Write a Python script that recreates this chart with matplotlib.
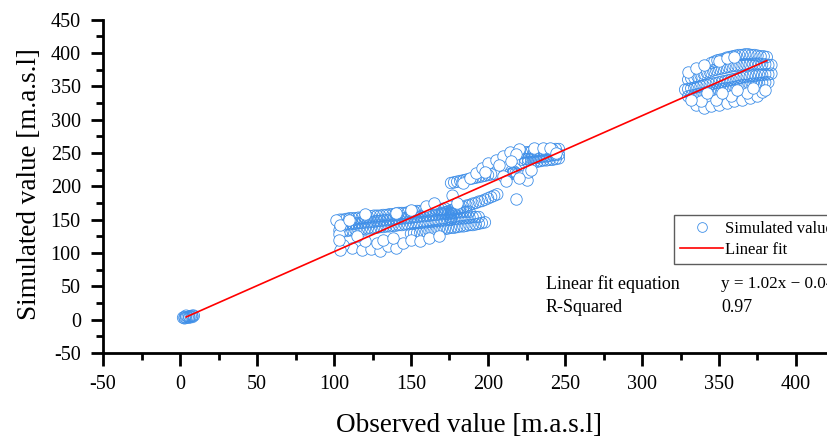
import numpy as np
import matplotlib
matplotlib.use("Agg")
import matplotlib.pyplot as plt
from matplotlib.ticker import MultipleLocator
from matplotlib.lines import Line2D

# ---------------- data ----------------
# cluster near origin
obs_a = [2, 3, 4, 5, 6, 7, 8, 9, 4, 6, 8, 3]
sim_a = [3, 4, 3, 4, 5, 5, 6, 6, 6, 3, 4, 2]

# 100-200 cluster, dense bands
obs_b1 = [104, 106, 108, 110, 112, 114, 116, 118, 120, 122, 124, 126, 128, 130, 132, 134, 136, 138, 140, 142,
          144, 146, 148, 150, 152, 154, 156, 158, 160, 162, 164, 166, 168, 170, 172]
sim_b1 = [150, 150, 151, 152, 152, 152, 153, 153, 154, 154, 155, 156, 156, 156, 157, 157, 158, 158, 159, 160,
          160, 160, 161, 161, 162, 163, 163, 163, 164, 164, 165, 166, 166, 166, 167]
obs_b2 = [104, 106, 108, 110, 112, 114, 116, 118, 120, 122, 124, 126, 128, 130, 132, 134, 136, 138, 140, 142,
          144, 146, 148, 150, 152, 154, 156, 158, 160, 162, 164, 166, 168, 170, 172, 174, 176, 178, 180, 182,
          184, 186, 188]
sim_b2 = [142, 142, 143, 143, 144, 144, 145, 145, 146, 146, 147, 147, 148, 148, 149, 149, 150, 150, 151, 151,
          152, 152, 153, 153, 154, 154, 155, 155, 156, 156, 157, 157, 158, 158, 159, 159, 160, 160, 161, 161,
          162, 162, 162]
obs_b3 = [106, 108, 110, 112, 114, 116, 118, 120, 122, 124, 126, 128, 130, 132, 134, 136, 138, 140, 142, 144,
          146, 148, 150, 152, 154, 156, 158, 160, 162, 164, 166, 168, 170, 172, 174, 176, 178, 180, 182, 184,
          186, 188, 190, 192, 194]
sim_b3 = [133, 133, 134, 134, 135, 135, 136, 136, 137, 137, 138, 138, 139, 139, 140, 140, 141, 141, 142, 142,
          143, 143, 144, 144, 145, 145, 146, 146, 147, 147, 148, 148, 149, 149, 150, 150, 151, 151, 152, 152,
          153, 153, 154, 154, 154]
obs_b4 = [150, 152, 154, 156, 158, 160, 162, 164, 166, 168, 170, 172, 174, 176, 178, 180, 182, 184, 186, 188,
          190, 192, 194, 196, 198]
sim_b4 = [129, 130, 130, 131, 132, 132, 133, 134, 134, 135, 136, 136, 137, 138, 138, 139, 140, 140, 141, 142,
          142, 143, 144, 145, 146]
obs_b6 = [170, 172, 174, 176, 178, 180, 182, 184, 186, 188, 190, 192, 194, 196, 198, 200, 202, 204, 206]
sim_b6 = [160, 161, 162, 164, 165, 166, 168, 169, 171, 172, 174, 175, 177, 178, 180, 182, 184, 186, 188]
obs_b7 = [176, 178, 180, 182, 184, 186, 188, 190, 192, 194, 196, 198, 200, 202, 204]
sim_b7 = [205, 206, 207, 208, 209, 210, 211, 212, 213, 214, 215, 216, 217, 218, 219]
obs_spk = [176, 176, 176, 176, 176, 177, 177]
sim_spk = [150, 153, 156, 159, 162, 165, 186]

# 200-250 cluster, dense bands
obs_c2 = [222, 224, 226, 228, 230, 232, 234, 236, 238, 240, 242, 244, 246]
sim_c2 = [240, 241, 241, 242, 243, 243, 244, 245, 245, 246, 247, 247, 248]
obs_c3 = [220, 222, 224, 226, 228, 230, 232, 234, 236, 238, 240, 242, 244, 246]
sim_c3 = [250, 250, 251, 251, 252, 252, 253, 253, 254, 254, 255, 255, 256, 256]
obs_c4 = [224, 226, 228, 230, 232, 234, 236, 238, 240, 242, 244, 246]
sim_c4 = [235, 236, 236, 237, 237, 238, 239, 239, 240, 240, 241, 242]
obs_cs = [214, 215, 216, 216, 217, 218, 219]
sim_cs = [218, 222, 219, 220, 222, 220, 218]

# 330-385 cluster, dense bands
obs_d1 = [345, 347, 349, 351, 353, 355, 357, 359, 361, 363, 365, 367, 369, 371, 373, 375, 377, 379, 381]
sim_d1 = [385, 387, 389, 390, 391, 393, 394, 395, 396, 397, 397, 398, 398, 397, 397, 396, 395, 395, 394]
obs_d2 = [330, 332, 334, 336, 338, 340, 342, 344, 346, 348, 350, 352, 354, 356, 358, 360, 362, 364, 366, 368,
          370, 372, 374, 376, 378, 380, 382, 384]
sim_d2 = [360, 362, 363, 365, 367, 369, 371, 372, 374, 375, 376, 377, 378, 379, 380, 381, 381, 382, 383, 383,
          383, 384, 384, 384, 383, 383, 382, 382]
obs_d3 = [328, 330, 332, 334, 336, 338, 340, 342, 344, 346, 348, 350, 352, 354, 356, 358, 360, 362, 364, 366,
          368, 370, 372, 374, 376, 378, 380, 382, 384]
sim_d3 = [345, 346, 347, 348, 349, 350, 351, 352, 353, 354, 355, 356, 357, 358, 359, 360, 361, 362, 363, 364,
          365, 365, 366, 366, 367, 367, 368, 368, 369]
obs_d4 = [330, 332, 334, 336, 338, 340, 342, 344, 346, 348, 350, 352, 354, 356, 358, 360, 362, 364, 366, 368,
          370, 372, 374, 376, 378, 380, 382]
sim_d4 = [335, 336, 337, 338, 339, 340, 341, 342, 343, 344, 345, 346, 347, 347, 348, 349, 350, 351, 352, 352,
          353, 354, 354, 355, 355, 356, 356]

# scattered single (white) points
obs_s = [112, 118, 124, 130, 135, 140, 128, 120, 145, 150, 156, 162, 168, 106, 104, 115, 132, 138, 103, 101,
         103, 104, 103, 110, 120, 160, 165, 150, 180, 140,
         184, 188, 192, 196, 200, 205, 210, 214, 220, 207, 198,
         210, 222, 225, 226, 220, 212, 218, 228, 230, 236, 240, 244, 218, 215,
         335, 340, 345, 350, 355, 360, 365, 370, 375, 338, 348, 358, 368, 378, 342, 352, 362, 372, 380, 332,
         330, 335, 340, 350, 355, 360]
sim_s = [108, 104, 106, 103, 110, 107, 115, 118, 115, 120, 118, 122, 125, 112, 105, 125, 120, 122, 135, 150,
         128, 142, 120, 150, 158, 170, 175, 165, 175, 160,
         205, 212, 220, 228, 235, 240, 246, 252, 256, 232, 222,
         215, 215, 210, 222, 212, 208, 181, 225, 258, 258, 257, 250, 248, 238,
         322, 318, 320, 322, 325, 328, 330, 333, 335, 328, 330, 335, 340, 342, 340, 340, 345, 348, 345, 330,
         372, 378, 382, 388, 392, 394]

fit_slope = 1.02
fit_intercept = -0.04
fit_range = [4, 381]

# ---------------- plot ----------------
plt.rcParams['font.family'] = ['Liberation Serif', 'DejaVu Serif']
plt.rcParams['axes.unicode_minus'] = False
fig = plt.figure(figsize=(8.28, 4.38), dpi=100)
ax = fig.add_axes([103 / 828, 85 / 438, 770 / 828, 333.3 / 438])

edge = '#3f8fe8'
band_kw = dict(marker='o', s=68, facecolors='none', edgecolors=edge, linewidths=0.6, alpha=1.0, zorder=2)
pt_kw = dict(marker='o', s=68, facecolors='white', edgecolors=edge, linewidths=0.6, zorder=2.5)

bands = [(obs_a, sim_a), (obs_b1, sim_b1), (obs_b2, sim_b2), (obs_b3, sim_b3), (obs_b4, sim_b4),
         (obs_b6, sim_b6), (obs_b7, sim_b7), (obs_spk, sim_spk), (obs_c4, sim_c4), (obs_c2, sim_c2),
         (obs_c3, sim_c3), (obs_cs, sim_cs), (obs_d4, sim_d4), (obs_d3, sim_d3), (obs_d2, sim_d2),
         (obs_d1, sim_d1)]
for xs, ys in bands:
    ax.scatter(xs, ys, **band_kw)
ax.scatter(obs_s, sim_s, **pt_kw)

fx = np.array(fit_range, dtype=float)
ax.plot(fx, fit_slope * fx + fit_intercept, color='#ff0000', lw=1.2, zorder=3)

ax.set_xlim(-50, 450)
ax.set_ylim(-50, 450)
ax.xaxis.set_major_locator(MultipleLocator(50))
ax.xaxis.set_minor_locator(MultipleLocator(25))
ax.yaxis.set_major_locator(MultipleLocator(50))
ax.yaxis.set_minor_locator(MultipleLocator(25))
ax.tick_params(which='major', direction='out', length=9, width=2, labelsize=14.5, pad=7)
ax.tick_params(which='minor', direction='out', length=5, width=2)
for s in ['top', 'right']:
    ax.spines[s].set_visible(False)
for s in ['left', 'bottom']:
    ax.spines[s].set_linewidth(2)

ax.set_xlabel('Observed value [m.a.s.l]', fontsize=19.5)
ax.set_ylabel('Simulated value [m.a.s.l]', fontsize=19.5)
ax.xaxis.set_label_coords((469 - 103) / 770, (353 - 426) / 333.3)
ax.yaxis.set_label_coords((30 - 103) / 770, (353 - 184) / 333.3)
ax.xaxis.label.set_va('center')
ax.yaxis.label.set_va('center')

handles = [Line2D([], [], marker='o', ls='none', markerfacecolor='white', markeredgecolor=edge,
                  markeredgewidth=0.6, markersize=7),
           Line2D([], [], color='#ff0000', lw=1.2)]
leg = ax.legend(handles, ['Simulated value', 'Linear fit'], loc='upper left',
                bbox_to_anchor=(0.7416, 0.4144), fontsize=12, frameon=True, fancybox=False,
                borderpad=0.35, labelspacing=0.3, handlelength=2.6, handletextpad=0.1,
                borderaxespad=0)
leg.get_frame().set_edgecolor('#333333')
leg.get_frame().set_linewidth(1.0)

fig_texts = [('Linear fit equation', 546, 284, 13), ('R-Squared', 546, 307, 13),
             ('y = 1.02x \u2212 0.04', 721, 284, 12.3), ('0.97', 721, 307, 13)]
for t, px, py, fs in fig_texts:
    fig.text(px / 828, 1 - py / 438, t, fontsize=fs, va='center', ha='left')

fig.savefig('out.png', dpi=100)
